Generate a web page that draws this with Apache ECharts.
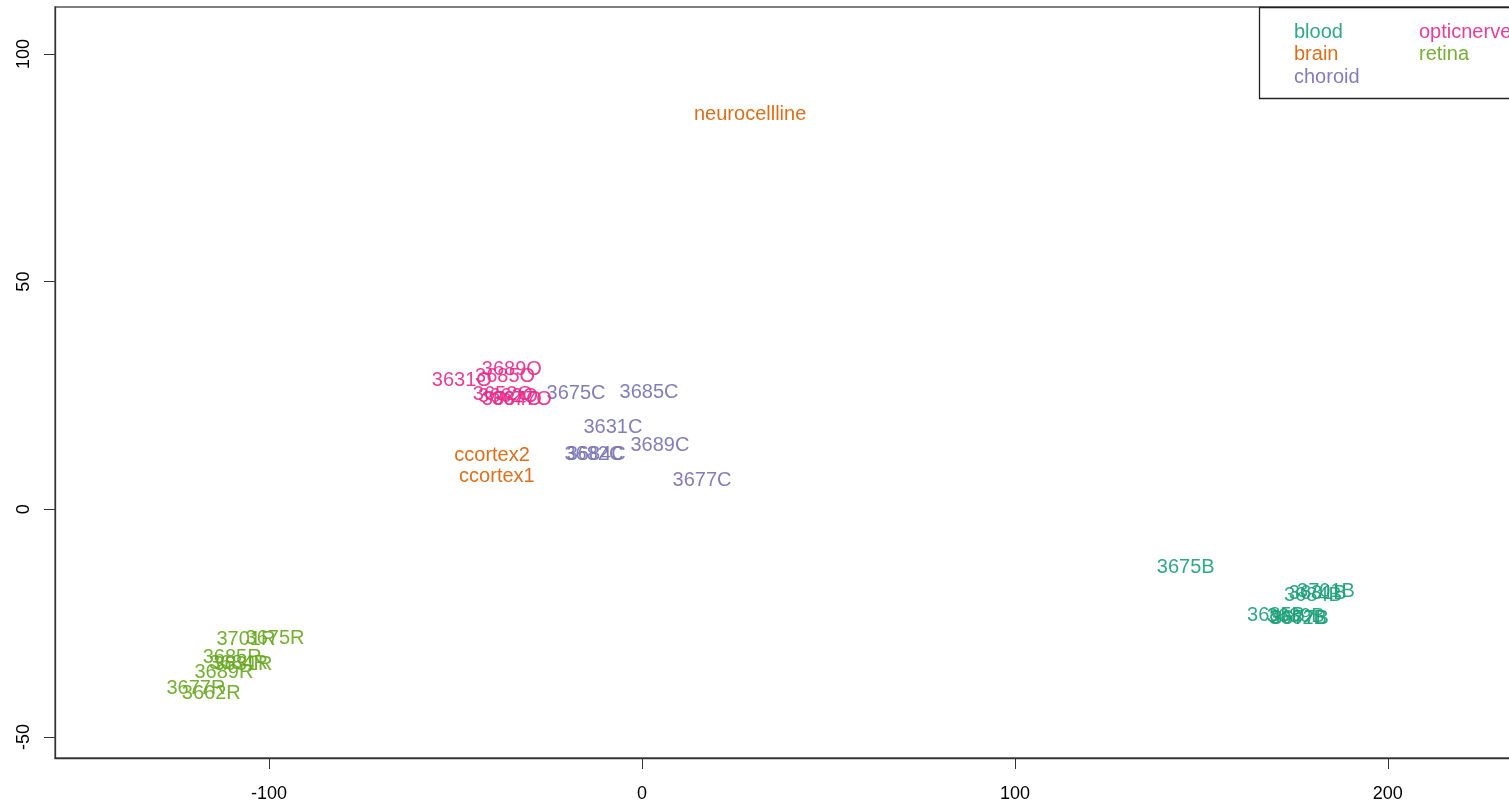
<!DOCTYPE html>
<html>
<head>
<meta charset="utf-8">
<script src="https://cdn.jsdelivr.net/npm/echarts@6/dist/echarts.min.js"></script>
<style>
html,body{margin:0;padding:0;background:#fff;overflow:hidden;width:1509px;height:806px;}
#chart{width:1537px;height:806px;}
</style>
</head>
<body>
<div id="chart"></div>
<script>
// ---- data ----
var groups = ['blood', 'brain', 'choroid', 'opticnerve', 'retina'];
var groupColors = ['#1B9E77', '#D95F02', '#7570B3', '#E7298A', '#66A61E'];

var bloodLabels = ['3675B', '3685B', '3689B', '3662B', '3677B', '3684B', '3631B', '3701B'];
var bloodX = [145.8, 170.0, 175.3, 175.9, 176.4, 179.9, 181.2, 183.4];
var bloodY = [-12.7, -23.3, -23.5, -23.9, -23.9, -18.9, -18.4, -18.0];

var brainLabels = ['neurocellline', 'ccortex2', 'ccortex1'];
var brainX = [29.0, -40.2, -38.9];
var brainY = [86.7, 11.9, 7.2];

var choroidLabels = ['3675C', '3685C', '3631C', '3689C', '3677C', '3682C', '3684C'];
var choroidX = [-17.7, 1.9, -7.8, 4.8, 16.1, -12.9, -12.3];
var choroidY = [25.5, 25.7, 18.0, 14.1, 6.4, 12.1, 12.1];

var opticLabels = ['3631O', '3685O', '3689O', '3652O', '3662O', '3684O', '3677O'];
var opticX = [-48.3, -36.7, -34.9, -37.3, -35.9, -34.9, -32.2];
var opticY = [28.3, 29.2, 30.7, 25.2, 24.8, 24.1, 24.1];

var retinaLabels = ['3701R', '3675R', '3685R', '3684R', '3631R', '3689R', '3677R', '3662R'];
var retinaX = [-106.2, -98.4, -109.9, -108.2, -107.0, -112.1, -119.6, -115.5];
var retinaY = [-28.5, -28.3, -32.5, -33.8, -34.0, -35.8, -39.3, -40.4];

var xTicks = [-100, 0, 100, 200];
var yTicks = [-50, 0, 50, 100];

// ---- build ----
var groupData = [
  [bloodLabels, bloodX, bloodY],
  [brainLabels, brainX, brainY],
  [choroidLabels, choroidX, choroidY],
  [opticLabels, opticX, opticY],
  [retinaLabels, retinaX, retinaY]
];

var FONT = '"Liberation Sans", Arial, Helvetica, sans-serif';

var series = groups.map(function (g, i) {
  var d = groupData[i];
  return {
    name: g,
    type: 'scatter',
    symbol: 'circle',
    symbolSize: 1,
    itemStyle: { color: 'rgba(0,0,0,0)', opacity: 1 },
    label: {
      show: true,
      position: 'inside',
      offset: [0, 2],
      formatter: function (p) { return p.value[2]; },
      color: groupColors[i],
      opacity: 0.9,
      fontFamily: FONT,
      fontSize: 20
    },
    labelLayout: { hideOverlap: false },
    emphasis: { disabled: true },
    data: d[0].map(function (lab, k) { return [d[1][k], d[2][k], lab]; })
  };
});

var legendGraphics = [{
  type: 'rect',
  shape: { x: 1259.5, y: 7.5, width: 300, height: 91 },
  style: { fill: '#fff', stroke: '#222', lineWidth: 1.3 },
  z: 100
}];
var legX = [1294, 1294, 1294, 1419, 1419];
var legY = [32, 54, 77, 32, 54];
groups.forEach(function (g, i) {
  legendGraphics.push({
    type: 'text',
    x: legX[i], y: legY[i],
    style: { text: g, fill: groupColors[i], opacity: 0.9, font: '20px ' + FONT, textVerticalAlign: 'middle', textAlign: 'left' },
    z: 101
  });
});

var chart = echarts.init(document.getElementById('chart'), null, { renderer: 'canvas' });
chart.setOption({
  animation: false,
  backgroundColor: '#fff',
  grid: {
    left: 55, top: 7, bottom: 48, right: 0,
    show: true, borderColor: '#555', borderWidth: 1.3, backgroundColor: 'transparent'
  },
  xAxis: {
    type: 'value', min: -157.4, max: 240,
    axisLine: { show: true, onZero: false, lineStyle: { color: '#333', width: 1.3 } },
    axisTick: { show: true, length: 11, customValues: xTicks, lineStyle: { color: '#333', width: 1 } },
    axisLabel: { customValues: xTicks, margin: 27, fontSize: 18, color: '#000', fontFamily: FONT },
    splitLine: { show: false }
  },
  yAxis: {
    type: 'value', min: -54.6, max: 110.3,
    axisLine: { show: true, onZero: false, lineStyle: { color: '#333', width: 1.3 } },
    axisTick: { show: true, length: 11, customValues: yTicks, lineStyle: { color: '#333', width: 1 } },
    axisLabel: { customValues: yTicks, margin: 22, rotate: 90, fontSize: 18, color: '#000', fontFamily: FONT },
    splitLine: { show: false }
  },
  graphic: legendGraphics,
  series: series
});
</script>
</body>
</html>
